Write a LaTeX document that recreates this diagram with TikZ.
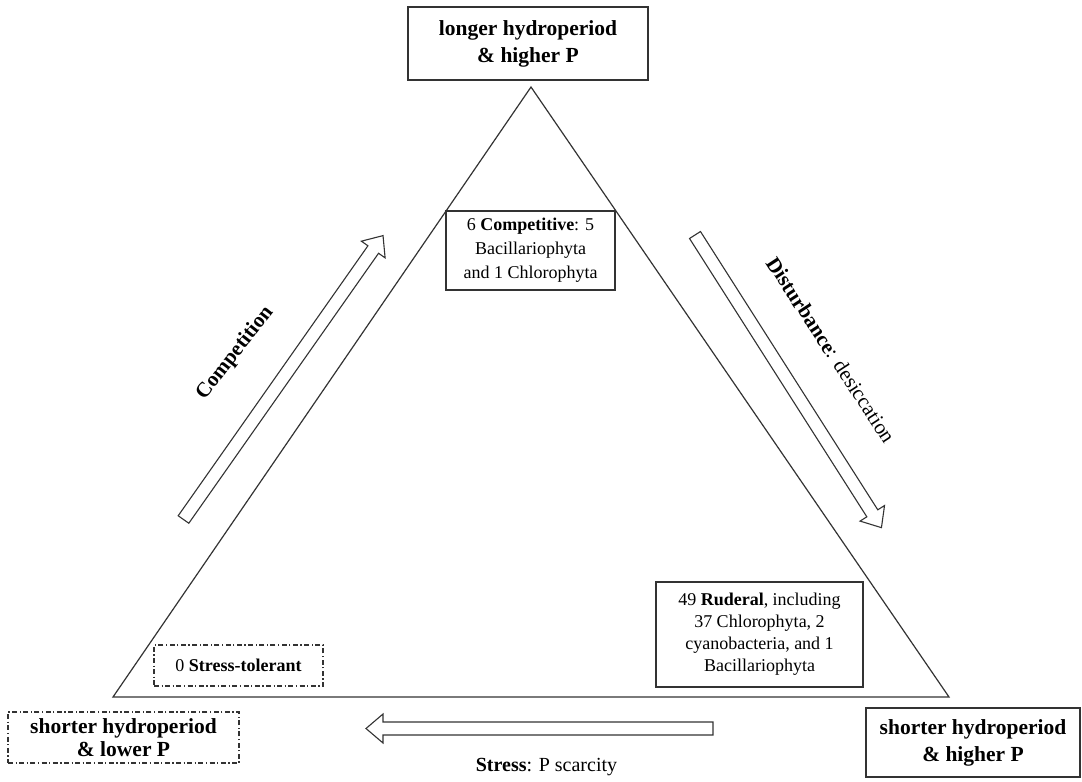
\documentclass[tikz,border=0pt]{standalone}
\usepackage{fontspec}
\setmainfont{Liberation Serif}
\begin{document}
\begin{tikzpicture}[x=1pt,y=-1pt,
  ln/.style={draw=black!80,line width=1.2pt},
  box/.style={ln,fill=white,inner sep=0pt,align=center,anchor=center},
  dotbox/.style={box,dash pattern=on 5pt off 2.5pt on 1.2pt off 2.5pt},
  cornerfont/.style={font=\fontsize{21.5}{27}\selectfont\bfseries},
  smallfont/.style={font=\fontsize{18}{24}\selectfont},
  rotfont/.style={font=\fontsize{21}{25}\selectfont},
  fat arrow/.pic={\draw[draw=black!80,line width=1.1pt,fill=white,line join=miter]
     (0,-6.5)--(330,-6.5)--(330,-14.5)--(347,0)--(330,14.5)--(330,6.5)--(0,6.5)--cycle;}
]
\useasboundingbox (0,0) rectangle (1082,782);
% triangle
\coordinate (apex) at (531,87);
\coordinate (bl) at (113,697);
\coordinate (br) at (949,697);
\draw[draw=black!80,line width=1.2pt,line join=miter] (apex)--(bl)--(br)--cycle;
% corner boxes
\node[box,cornerfont,minimum width=240pt,minimum height=73pt] (top) at (528,43.5)
  {longer hydroperiod\\\& higher P};
\node[dotbox,font=\fontsize{21.5}{22.5}\selectfont\bfseries,minimum width=231pt,minimum height=51pt] (lowP) at (123.5,737.5)
  {shorter hydroperiod\\\& lower P};
\node[box,cornerfont,minimum width=214pt,minimum height=69pt] (highP) at (973,742.5)
  {shorter hydroperiod\\\& higher P};
% strategy boxes
\node[box,smallfont,minimum width=169pt,minimum height=79pt] (comp) at (530.5,250.5)
  {6 \textbf{Competitive}: 5\\Bacillariophyta\\and 1 Chlorophyta};
\node[box,font=\fontsize{18}{22}\selectfont,minimum width=207pt,minimum height=105pt] (rud) at (759.5,634.5)
  {49 \textbf{Ruderal}, including\\37 Chlorophyta, 2\\cyanobacteria, and 1\\Bacillariophyta};
\node[dotbox,smallfont,minimum width=169pt,minimum height=41pt] (stol) at (238.5,665.5)
  {0 \textbf{Stress-tolerant}};
% arrows
\pic[rotate=54.9] at (183.5,519.5) {fat arrow};
\pic[rotate=-57.5] at (695,235) {fat arrow};
\pic[rotate=180] at (713,728.5) {fat arrow};
% arrow labels
\node[rotfont,rotate=52] (lcomp) at (235,353) {\textbf{Competition}};
\node[rotfont,rotate=-56.9] (ldist) at (831,350) {\textbf{Disturbance}: desiccation};
\node[font=\fontsize{20}{24}\selectfont] (lstress) at (546.5,767) {\textbf{Stress}: P scarcity};
\end{tikzpicture}
\end{document}
